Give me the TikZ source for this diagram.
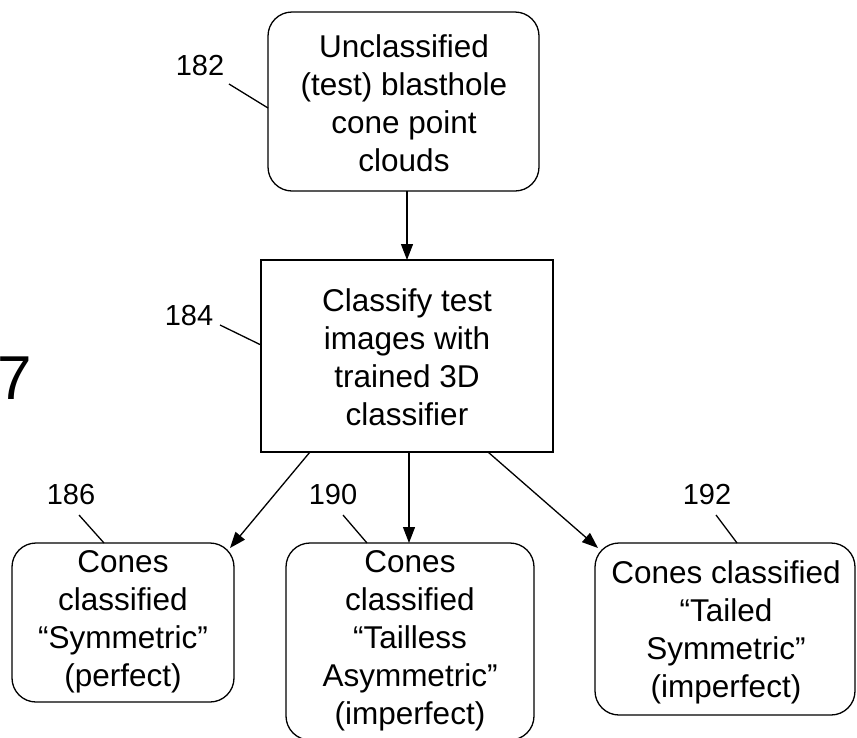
\documentclass[tikz,border=0pt]{standalone}
\usepackage{fontspec}
\setmainfont{Liberation Sans}
\usetikzlibrary{arrows.meta}
\begin{document}
\begin{tikzpicture}[x=1pt,y=-1pt,
  txt/.style={font=\fontsize{31.5}{38}\selectfont, align=center, inner sep=0pt},
  rbox/.style={draw, line width=1.3pt, rounded corners=24pt},
  sbox/.style={draw, line width=1.3pt},
  lbl/.style={font=\fontsize{29}{34}\selectfont, inner sep=0pt},
  lead/.style={line width=1.3pt},
  arr/.style={line width=1.3pt, -{Triangle[length=16pt,width=12pt]}}]
\useasboundingbox (0,0) rectangle (857,737);
% boxes
\draw[rbox] (268,12) rectangle (539,191);
\node[txt] (top) at (404,103) {Unclassified\\(test) blasthole\\cone point\\clouds};
\draw[sbox] (261,260) rectangle (553,452);
\node[txt] (mid) at (407,357) {Classify test\\images with\\trained 3D\\classifier};
\draw[rbox] (12,543) rectangle (234,702);
\node[txt] (b186) at (123,622) {Cones\\classified\\“Symmetric”\\(perfect)};
\draw[rbox] (286,543) rectangle (534,740);
\node[txt] (b190) at (410,641) {Cones\\classified\\“Tailless\\Asymmetric”\\(imperfect)};
\draw[rbox] (595,543) rectangle (855,715);
\node[txt] (b192) at (726,632) {Cones classified\\“Tailed\\Symmetric”\\(imperfect)};
% coordinates for connectors
\coordinate (topS) at (407,191);
\coordinate (midN) at (407,260);
\coordinate (midS1) at (310,452);
\coordinate (midS2) at (409,452);
\coordinate (midS3) at (488,452);
\coordinate (t186) at (230,548);
\coordinate (t190) at (409,543);
\coordinate (t192) at (598,548);
\draw[arr] (topS) -- (midN);
\draw[arr] (midS1) -- (t186);
\draw[arr] (midS2) -- (t190);
\draw[arr] (midS3) -- (t192);
% labels
\node[lbl] (l182) at (200,66) {182};
\coordinate (e182) at (268,108);
\draw[lead] (229,84) -- (e182);
\node[lbl] (l184) at (189,316) {184};
\coordinate (e184) at (261,345);
\draw[lead] (220,325) -- (e184);
\node[lbl] (l186) at (71,495) {186};
\coordinate (e186) at (104,543);
\draw[lead] (79,515) -- (e186);
\node[lbl] (l190) at (333,495) {190};
\coordinate (e190) at (367,543);
\draw[lead] (343,515) -- (e190);
\node[lbl] (l192) at (707,495) {192};
\coordinate (e192) at (737,543);
\draw[lead] (716,515) -- (e192);
% partial figure label
\node[font=\fontsize{62}{62}\selectfont, inner sep=0pt, anchor=west] (fig) at (-3,378) {7};
\end{tikzpicture}
\end{document}
